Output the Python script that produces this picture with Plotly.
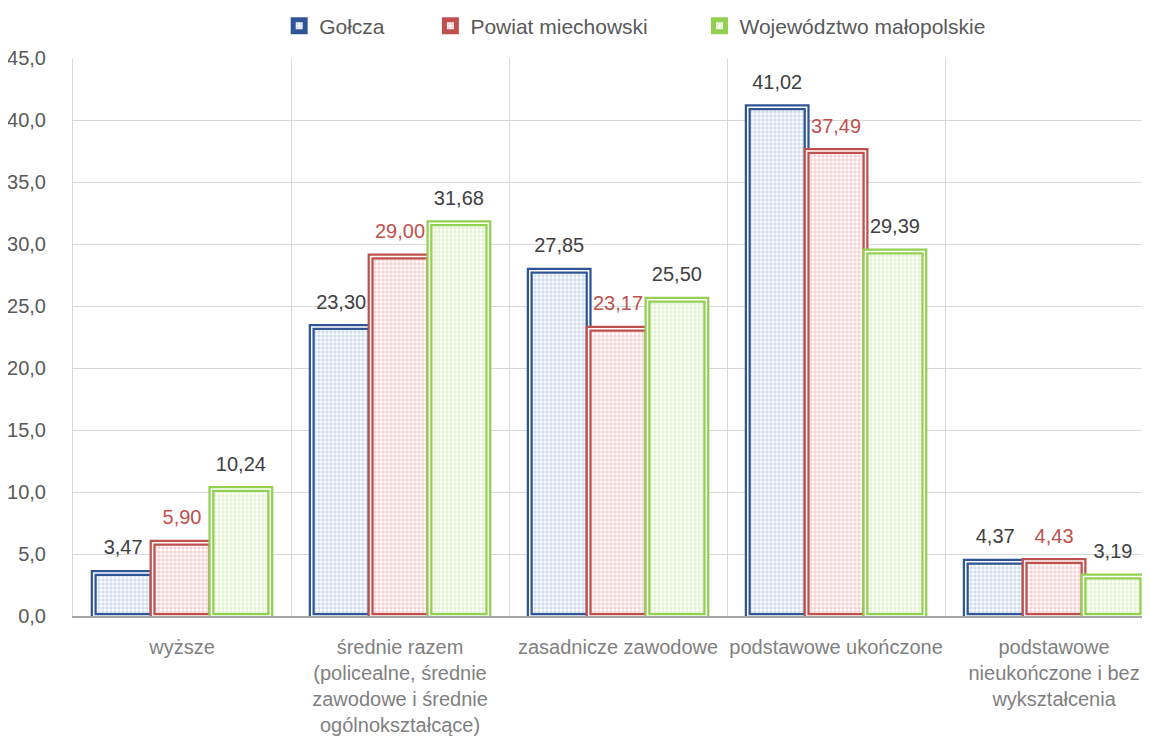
import plotly.graph_objects as go

categories = [
    "wyższe",
    "średnie razem<br>(policealne, średnie<br>zawodowe i średnie<br>ogólnokształcące)",
    "zasadnicze zawodowe",
    "podstawowe ukończone",
    "podstawowe<br>nieukończone i bez<br>wykształcenia",
]
series_names = ["Gołcza", "Powiat miechowski", "Województwo małopolskie"]
golcza = [3.47, 23.30, 27.85, 41.02, 4.37]
powiat = [5.90, 29.00, 23.17, 37.49, 4.43]
wojewodztwo = [10.24, 31.68, 25.50, 29.39, 3.19]
y_ticks = [0, 5, 10, 15, 20, 25, 30, 35, 40, 45]

values = [golcza, powiat, wojewodztwo]
line_colors = ["#2F5597", "#C0504D", "#92D050"]
pattern_colors = ["#a3bbe4", "#eda6a5", "#c6e4a0"]
label_colors = ["#404040", "#C0504D", "#404040"]
# non-breaking spaces to widen the legend entries like the reference
legend_pad = [7, 8, 0]

FONT = "Liberation Sans, Arial, sans-serif"
GAP = 0.19

fig = go.Figure()
for name, vals, lc, pc, pad in zip(series_names, values, line_colors, pattern_colors, legend_pad):
    # outer colored thick border with patterned fill
    fig.add_trace(go.Bar(
        x=categories, y=vals, name=name + "\u00a0" * pad, offsetgroup=name,
        marker=dict(
            color="white",
            line=dict(color=lc, width=6),
            pattern=dict(shape=".", fgcolor=pc, bgcolor="white", size=4, solidity=0.6),
        ),
        hoverinfo="skip",
    ))
    # thin white stroke in the middle -> double border
    fig.add_trace(go.Bar(
        x=categories, y=vals, name=name, offsetgroup=name, showlegend=False,
        marker=dict(color="rgba(0,0,0,0)", line=dict(color="white", width=1.5)),
        hoverinfo="skip",
    ))

# value labels, grouped like the bars
for name, vals, tc in zip(series_names, values, label_colors):
    fig.add_trace(go.Scatter(
        x=categories, y=vals, name=name, offsetgroup=name, showlegend=False,
        mode="markers+text", marker=dict(size=20, opacity=0, color="white"),
        text=[f"{v:.2f}".replace(".", ",") for v in vals],
        textposition="top center",
        textfont=dict(family=FONT, size=20, color=tc),
        cliponaxis=False, hoverinfo="skip",
    ))

# the page has an 8px body margin, so the figure is 8px smaller and the
# margins are shifted accordingly
fig.update_layout(
    width=1142, height=732,
    margin=dict(l=65, r=0, t=50, b=124, autoexpand=False),
    paper_bgcolor="white", plot_bgcolor="white",
    barmode="group", bargap=GAP, bargroupgap=0,
    scattermode="group", scattergap=GAP,
    separators=", ",
    font=dict(family=FONT, size=20, color="#595959"),
    legend=dict(
        orientation="h", x=0.522, xanchor="center", y=1.057, yanchor="middle",
        font=dict(size=21, color="#595959"),
        itemwidth=30, traceorder="normal",
    ),
    showlegend=True,
)
fig.update_xaxes(
    range=[-0.5, 4.44], tickson="boundaries", showgrid=True, gridcolor="#d9d9d9",
    gridwidth=1, ticks="", showline=True, linecolor="#a6a6a6", linewidth=1.5,
    tickfont=dict(size=20, color="#7f7f7f"), ticklabelstandoff=12, tickangle=0,
    fixedrange=True,
)
fig.update_yaxes(
    range=[0, 45], tickvals=y_ticks, tickformat=".1f", showgrid=True,
    gridcolor="#d9d9d9", gridwidth=1, zeroline=False, showline=True,
    linecolor="#d9d9d9", ticks="", tickfont=dict(size=20, color="#595959"),
    ticklabelstandoff=22, fixedrange=True,
)

fig.write_html("out.html")
